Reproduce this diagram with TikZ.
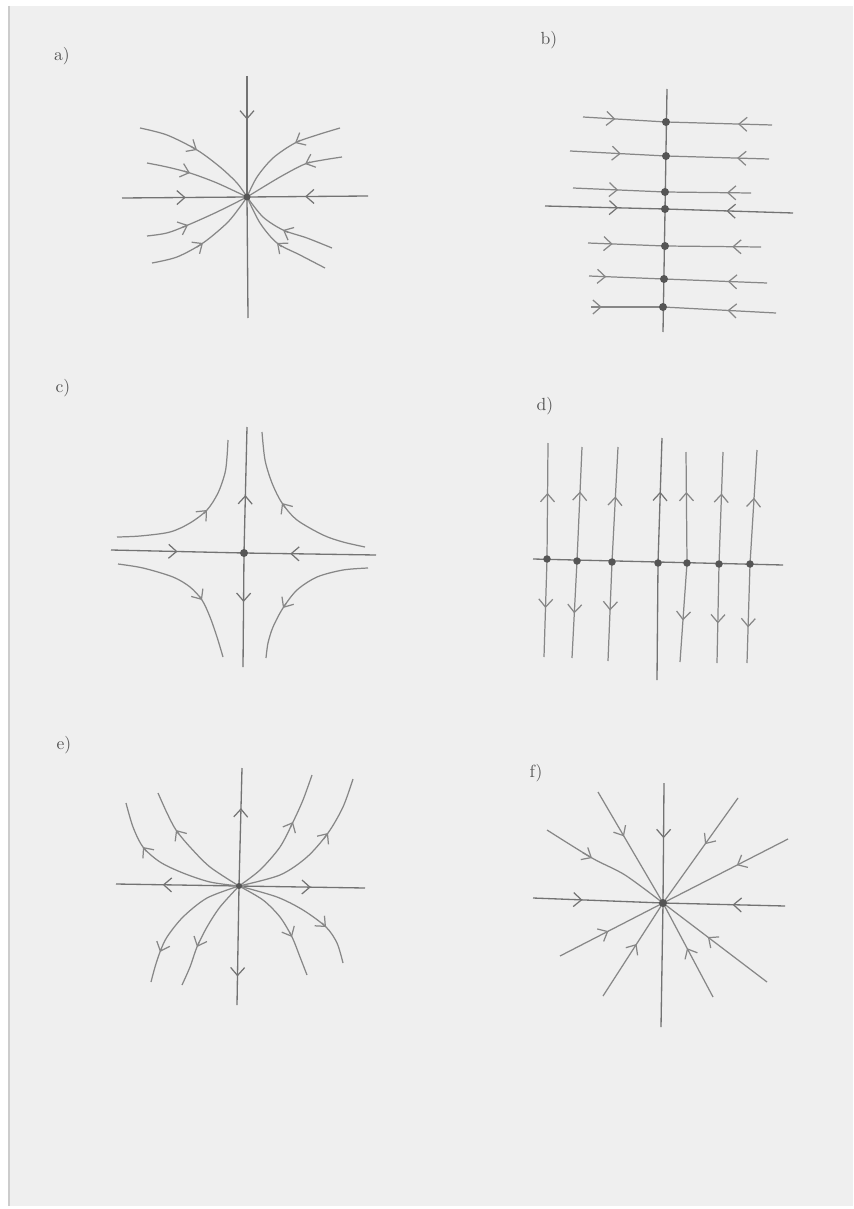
\documentclass[tikz,border=0pt]{standalone}
\usetikzlibrary{arrows.meta, decorations.markings, calc}
\definecolor{Paper}{HTML}{EFEFEF}
\definecolor{Pencil}{HTML}{878787}
\definecolor{Lead}{HTML}{555555}
% chevron on a curve: previous point, arrow point, next point
\newcommand{\flowtip}[3]{\draw[chev] ($(#2)+0.12*(#1)-0.12*(#3)$) -- (#2);}

\begin{document}
\begin{tikzpicture}[
    x=0.02cm, y=-0.02cm,
    flow/.style={draw=Pencil, line width=0.7pt},
    axis/.style={draw=Pencil!85!black, line width=0.75pt},
    chev/.style={draw=Pencil, line width=0.7pt, -{Straight Barb[length=1.6mm, width=2.8mm]}},
    arr/.style={postaction={decorate}, decoration={markings,
        mark=at position #1 with {\arrow[line width=0.7pt]{Straight Barb[length=1.6mm, width=2.8mm]}}}},
    dot/.style={fill=Lead},
    lbl/.style={font=\normalsize, text=Lead}
]
\useasboundingbox (0,0) rectangle (853,1209);
\fill[white] (0,0) rectangle (853,1209);
\fill[Paper] (9,6) rectangle (853,1206);
\draw[gray!40, line width=0.6pt] (9,6) -- (9,1206);

% labels
\node[lbl] (la) at (62,56) {a)};
\node[lbl] (lb) at (549,40) {b)};
\node[lbl] (lc) at (63,388) {c)};
\node[lbl] (ld) at (545,406) {d)};
\node[lbl] (le) at (64,745) {e)};
\node[lbl] (lf) at (536,773) {f)};

% a) stable node
\coordinate (Ca) at (247,197);
\draw[axis, arr=0.36] (247,76) -- (Ca);
\draw[axis] (Ca) -- (248,318);
\draw[axis, arr=0.51] (122,198) -- (Ca);
\draw[axis, arr=0.52] (368,196) -- (Ca);
\draw[flow] plot[smooth] coordinates {(140,128) (167,135) (197,150) (220,167) (237,183) (247,197)};
\draw[flow] plot[smooth] coordinates {(147,163) (167,167) (190,173) (217,183) (247,197)};
\draw[flow] plot[smooth] coordinates {(340,128) (317,135) (295,143) (273,158) (257,177) (247,197)};
\draw[flow] plot[smooth] coordinates {(342,157) (323,160) (305,164) (280,177) (247,197)};
\draw[flow] plot[smooth] coordinates {(147,236) (167,233) (188,225) (217,212) (247,197)};
\draw[flow] plot[smooth] coordinates {(152,263) (177,257) (203,243) (227,223) (240,207) (247,197)};
\draw[flow] plot[smooth] coordinates {(332,248) (307,238) (283,230) (263,217) (247,197)};
\draw[flow] plot[smooth] coordinates {(325,268) (300,255) (277,243) (260,223) (247,197)};
\flowtip{167,135}{197,150}{220,167}
\flowtip{167,167}{190,173}{217,183}
\flowtip{317,135}{295,143}{273,158}
\flowtip{323,160}{305,164}{280,177}
\flowtip{167,233}{188,225}{217,212}
\flowtip{177,257}{203,243}{227,223}
\flowtip{307,238}{283,230}{263,217}
\flowtip{300,255}{277,243}{260,223}
\fill[dot] (Ca) circle[radius=0.7mm];

% b) line of equilibria
\draw[axis] (667,89) -- (663,332);
\coordinate (b1) at (666,122);
\coordinate (b2) at (666,156);
\coordinate (b3) at (665,192);
\coordinate (b4) at (665,209);
\coordinate (b5) at (665,246);
\coordinate (b6) at (664,279);
\coordinate (b7) at (663,307);
\draw[flow, arr=0.39] (583,117) -- (b1);
\draw[flow, arr=0.32] (772,125) -- (b1);
\draw[flow, arr=0.53] (570,151) -- (b2);
\draw[flow, arr=0.31] (769,159) -- (b2);
\draw[flow, arr=0.49] (573,188) -- (b3);
\draw[flow, arr=0.28] (751,193) -- (b3);
\draw[axis, arr=0.61] (545,206) -- (b4);
\draw[axis, arr=0.52] (793,213) -- (b4);
\draw[flow, arr=0.32] (588,243) -- (b5);
\draw[flow, arr=0.30] (761,247) -- (b5);
\draw[flow, arr=0.23] (589,276) -- (b6);
\draw[flow, arr=0.38] (767,283) -- (b6);
\draw[flow, arr=0.15] (591,307) -- (b7);
\draw[flow, arr=0.43] (776,313) -- (b7);
\fill[dot] (b1) circle[radius=0.8mm];
\fill[dot] (b2) circle[radius=0.8mm];
\fill[dot] (b3) circle[radius=0.8mm];
\fill[dot] (b4) circle[radius=0.8mm];
\fill[dot] (b5) circle[radius=0.8mm];
\fill[dot] (b6) circle[radius=0.8mm];
\fill[dot] (b7) circle[radius=0.8mm];

% c) saddle
\coordinate (Cc) at (244,553);
\draw[axis, arr=0.46] (Cc) -- (247,427);
\draw[axis, arr=0.43] (Cc) -- (243,667);
\draw[axis, arr=0.50] (111,550) -- (Cc);
\draw[axis, arr=0.65] (376,555) -- (Cc);
\draw[flow] plot[smooth] coordinates {(117,537) (140,536) (170,532) (190,523) (207,510) (218,493) (225,473) (227,457) (228,440)};
\draw[flow] plot[smooth] coordinates {(365,547) (343,542) (323,535) (297,520) (282,503) (272,483) (265,460) (262,432)};
\draw[flow] plot[smooth] coordinates {(118,564) (143,568) (173,577) (190,587) (202,600) (210,617) (217,637) (223,657)};
\draw[flow] plot[smooth] coordinates {(368,568) (343,570) (317,577) (297,590) (283,608) (273,627) (268,643) (266,658)};
\flowtip{190,523}{207,510}{218,493}
\flowtip{297,520}{282,503}{272,483}
\flowtip{190,587}{202,600}{210,617}
\flowtip{297,590}{283,608}{273,627}
\fill[dot] (Cc) circle[radius=0.8mm];

% d) line of equilibria, vertical flow
\draw[axis] (533,559) -- (783,565);
\coordinate (Cd) at (658,563);
\draw[axis, arr=0.57] (Cd) -- (662,438);
\draw[axis] (Cd) -- (657,680);
\coordinate (d1) at (547,559);
\coordinate (d2) at (577,561);
\coordinate (d3) at (612,562);
\coordinate (d5) at (687,563);
\coordinate (d6) at (719,564);
\coordinate (d7) at (750,564);
\draw[flow, arr=0.57] (d1) -- (548,443);
\draw[flow, arr=0.50] (d1) -- (544,657);
\draw[flow, arr=0.61] (d2) -- (582,447);
\draw[flow, arr=0.54] (d2) -- (572,658);
\draw[flow, arr=0.57] (d3) -- (618,447);
\draw[flow, arr=0.49] (d3) -- (608,661);
\draw[flow, arr=0.64] (d5) -- (686,452);
\draw[flow, arr=0.58] (d5) -- (680,662);
\draw[flow, arr=0.63] (d6) -- (723,452);
\draw[flow, arr=0.60] (d6) -- (717,663);
\draw[flow, arr=0.58] (d7) -- (757,450);
\draw[flow, arr=0.64] (d7) -- (747,663);
\fill[dot] (d1) circle[radius=0.75mm];
\fill[dot] (d2) circle[radius=0.75mm];
\fill[dot] (d3) circle[radius=0.75mm];
\fill[dot] (Cd) circle[radius=0.75mm];
\fill[dot] (d5) circle[radius=0.75mm];
\fill[dot] (d6) circle[radius=0.75mm];
\fill[dot] (d7) circle[radius=0.75mm];

% e) unstable node
\coordinate (Ce) at (239,886);
\draw[axis, arr=0.66] (Ce) -- (242,768);
\draw[axis, arr=0.76] (Ce) -- (237,1005);
\draw[axis, arr=0.62] (Ce) -- (116,884);
\draw[axis, arr=0.57] (Ce) -- (365,888);
\draw[flow] plot[smooth] coordinates {(239,886) (210,882) (183,873) (160,862) (143,847) (133,827) (126,803)};
\draw[flow] plot[smooth] coordinates {(239,886) (210,867) (190,847) (176,830) (167,813) (158,793)};
\draw[flow] plot[smooth] coordinates {(239,886) (260,870) (280,847) (293,822) (303,800) (312,775)};
\draw[flow] plot[smooth] coordinates {(239,886) (280,875) (307,857) (328,833) (343,807) (353,779)};
\draw[flow] plot[smooth] coordinates {(239,886) (207,898) (183,917) (167,937) (160,952) (155,967) (151,982)};
\draw[flow] plot[smooth] coordinates {(239,886) (220,907) (207,927) (197,947) (190,967) (182,985)};
\draw[flow] plot[smooth] coordinates {(239,886) (263,900) (280,917) (292,937) (300,957) (307,975)};
\draw[flow] plot[smooth] coordinates {(239,886) (277,897) (303,910) (326,927) (337,943) (343,963)};
\flowtip{160,862}{143,847}{133,827}
\flowtip{190,847}{176,830}{167,813}
\flowtip{280,847}{293,822}{303,800}
\flowtip{307,857}{328,833}{343,807}
\flowtip{167,937}{160,952}{155,967}
\flowtip{207,927}{197,947}{190,967}
\flowtip{280,917}{292,937}{300,957}
\flowtip{303,910}{326,927}{337,943}
\fill[dot] (Ce) circle[radius=0.6mm];

% f) stable star
\coordinate (Cf) at (663,903);
\draw[axis, arr=0.46] (664,783) -- (Cf);
\draw[axis] (Cf) -- (661,1027);
\draw[axis, arr=0.38] (533,898) -- (Cf);
\draw[axis, arr=0.43] (785,906) -- (Cf);
\draw[flow, arr=0.40] (598,792) -- (Cf);
\draw[flow] plot[smooth] coordinates {(547,830) (592,858) (625,875) (663,903)};
\flowtip{547,830}{592,858}{625,875}
\draw[flow, arr=0.44] (738,798) -- (Cf);
\draw[flow, arr=0.41] (788,839) -- (Cf);
\draw[flow, arr=0.47] (560,956) -- (Cf);
\draw[flow, arr=0.56] (603,996) -- (Cf);
\draw[flow, arr=0.52] (713,997) -- (Cf);
\draw[flow, arr=0.57] (767,982) -- (Cf);
\fill[dot] (Cf) circle[radius=0.8mm];

\end{tikzpicture}
\end{document}
